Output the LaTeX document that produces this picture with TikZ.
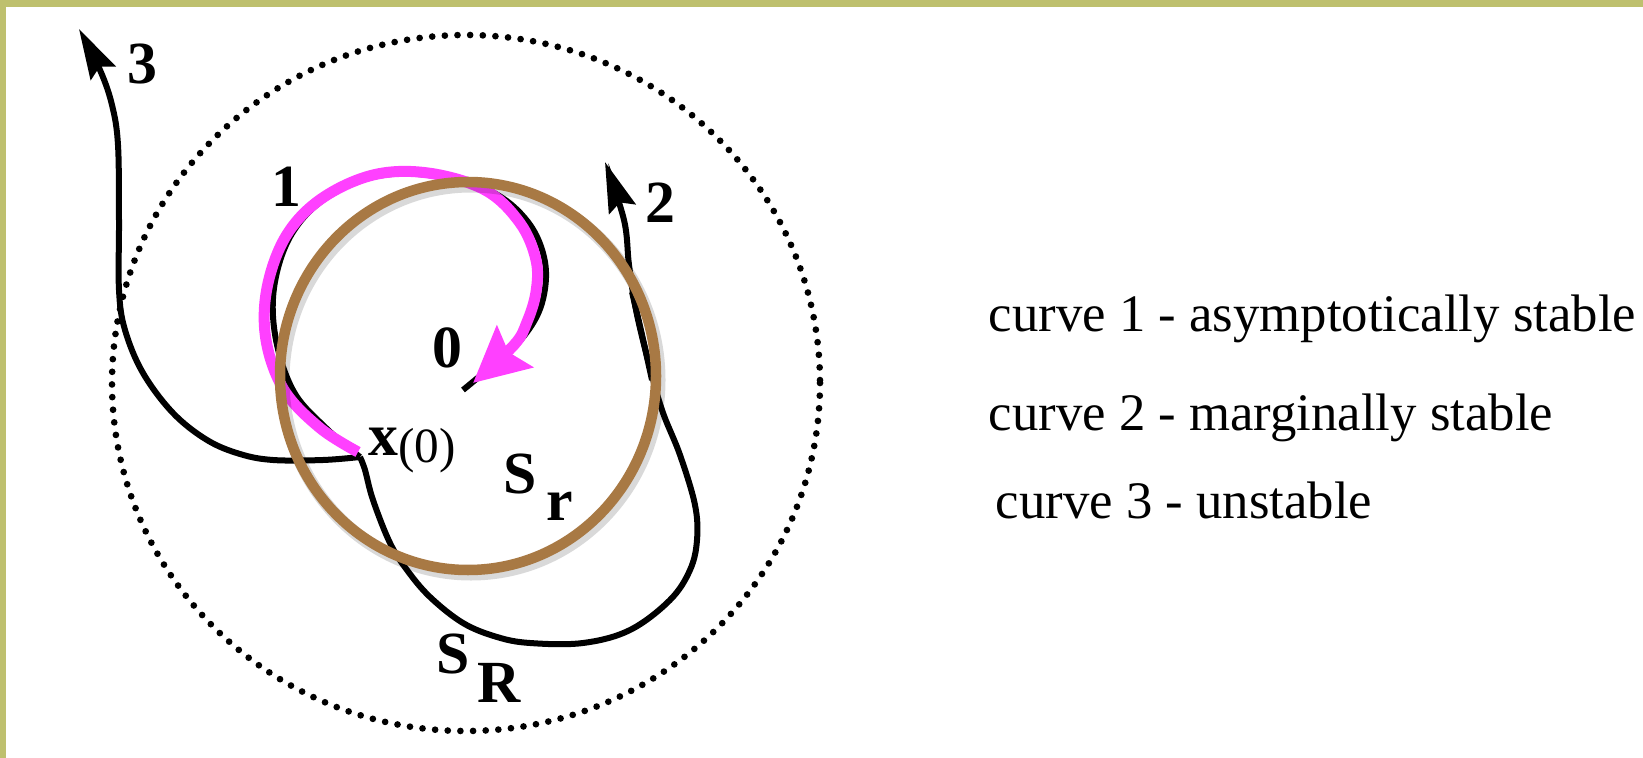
\documentclass[tikz,border=0pt]{standalone}
\usepackage{fontspec}
\setmainfont{Liberation Serif}
\usetikzlibrary{arrows.meta}
\definecolor{frameolive}{RGB}{190,192,110}
\definecolor{srbrown}{RGB}{168,121,68}
\definecolor{spinmag}{RGB}{255,64,255}

\begin{document}
\begin{tikzpicture}[x=0.01cm, y=-0.01cm,
    curve/.style={line width=0.6mm, black},
    tip/.style={-{Stealth[length=5mm, width=2.8mm, inset=0.7mm]}},
    lbl/.style={font=\bfseries\fontsize{17}{20}\selectfont, inner sep=0pt},
    legend/.style={font=\fontsize{15}{18}\selectfont, inner sep=0pt, anchor=base west}]
    \useasboundingbox (0,0) rectangle (1643,758);
    \fill[white] (0,0) rectangle (1643,758);
    \fill[frameolive] (0,0) rectangle (1643,7);
    \fill[frameolive] (0,0) rectangle (6,758);
    \coordinate (x0) at (360,457);
    \coordinate (o) at (463,390);
    % region S_R
    \draw[line width=1.9pt, line cap=round, dash pattern=on 0pt off 3.6pt] (466,383) ellipse [x radius=354, y radius=348];
    % curves 1, 2, 3
    \draw[curve] plot[smooth, tension=0.6] coordinates {(x0) (326,428) (294,392) (276,340) (274,288) (290,237) (323,200) (373,177) (428,175) (490,191) (528,222) (545,262) (542,303) (524,336) (494,364) (o)};
    \draw[curve, tip] plot[smooth, tension=0.6] coordinates {(x0) (365,470) (373,500) (390,543) (407,570) (430,597) (463,623) (497,637) (530,643) (583,643) (630,630) (670,600) (690,570) (697,540) (695,505) (680,455) (662,410) (648,360) (636,310) (629,265) (624,220) (605,162)};
    \draw[curve] (632,292) .. controls (641,330) .. (652,380);
    \draw[curve, tip] plot[smooth, tension=0.6] coordinates {(x0) (323,460) (273,460) (240,454) (207,440) (173,413) (143,373) (125,330) (119,290) (119,220) (118,145) (112,105) (100,70) (79,29)};
    % spiral to the origin
    \draw[spinmag, line width=1.1mm, -{Stealth[length=5.5mm, width=5.4mm, inset=0.8mm]}] plot[smooth, tension=0.6] coordinates {(358,452) (320,428) (284,390) (266,340) (267,288) (286,236) (321,199) (373,175) (428,173) (485,190) (520,223) (536,260) (536,292) (527,322) (514,345) (473,383)};
    % region S_r
    \draw[black, opacity=0.15, line width=1.3mm] (471,380) ellipse [x radius=188, y radius=194];
    \draw[srbrown, line width=1.05mm] (468,376) ellipse [x radius=188, y radius=194];
    \node[lbl] (n3) at (142,64) {3};
    \node[lbl] (n2) at (660,203) {2};
    \node[lbl] (n1) at (286,187) {1};
    \node[lbl] (n0) at (447,348) {0};
    \node[lbl, anchor=base west] (nx) at (368,455) {x\raisebox{-2pt}{\mdseries\fontsize{14}{16}\selectfont(0)}};
    \node[lbl, anchor=base west] (sr) at (503,493) {S\hspace{0.1cm}\raisebox{-0.27cm}{r}};
    \node[lbl, anchor=base west] (sR) at (436,673) {S\hspace{0.08cm}\raisebox{-0.29cm}{R}};
    \node[legend] (c1) at (988,331) {curve 1 - asymptotically stable};
    \node[legend] (c2) at (988,430) {curve 2 - marginally stable};
    \node[legend] (c3) at (995,518) {curve 3 - unstable};
\end{tikzpicture}
\end{document}
